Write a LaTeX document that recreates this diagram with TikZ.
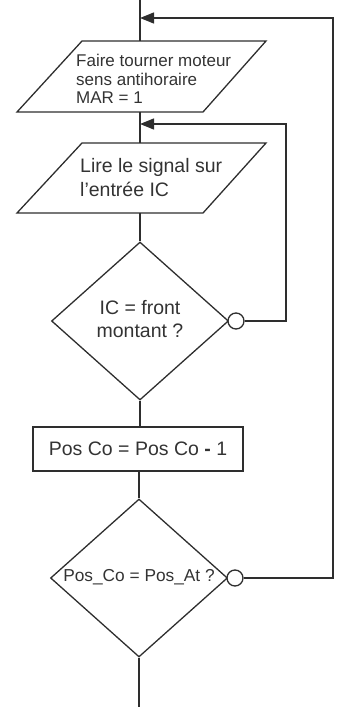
\documentclass[tikz,border=0pt]{standalone}
\usepackage{fontspec}
\setmainfont{Liberation Sans}
\usetikzlibrary{shapes.geometric,arrows.meta}
\definecolor{ink}{HTML}{2E2E2E}
\definecolor{txt}{HTML}{333333}
\begin{document}
\begin{tikzpicture}[x=1pt,y=-1pt,
  line/.style={draw=ink,line width=1.3pt},
  flow/.style={line,-{Triangle[length=14pt,width=11pt]}},
  label/.style={text=txt,inner sep=0pt},
  test/.style={line,diamond,minimum width=177pt,minimum height=158pt,inner sep=0pt},
  stepbox/.style={line,rectangle,minimum width=210pt,minimum height=44pt,inner sep=0pt},
  neg/.style={line,circle,fill=white,minimum size=16pt,inner sep=0pt}]
\useasboundingbox (0,0) rectangle (337,707);

% input / output blocks (parallelograms)
\draw[line] (82,41) -- (266,41) -- (203,112) -- (17,112) -- cycle;
\coordinate (p1t) at (140,41);
\coordinate (p1b) at (140,112);
\node[label,anchor=west,align=left,font=\fontsize{17}{18.5}\selectfont] (t1) at (76,79)
  {Faire tourner moteur\\sens antihoraire\\MAR = 1};

\draw[line] (82,143) -- (266,143) -- (203,213) -- (17,213) -- cycle;
\coordinate (p2t) at (140,143);
\coordinate (p2b) at (140,213);
\node[label,anchor=west,align=left,font=\fontsize{19.5}{24}\selectfont] (t2) at (80,178)
  {Lire le signal sur\\l’entrée IC};

% tests
\node[test] (d1) at (140,321) {};
\node[label,align=center,font=\fontsize{19.5}{23}\selectfont] at (140,319) {IC = front\\montant ?};
\node[neg] (c1) at (236,321) {};

\node[stepbox,font=\fontsize{19.5}{23}\selectfont,text=txt] (calc) at (138,449) {Pos Co = Pos Co {\bfseries -} 1};

\node[test] (d2) at (139,578) {};
\node[label,font=\fontsize{17.3}{20}\selectfont] at (139,577) {Pos\_Co = Pos\_At ?};
\node[neg] (c2) at (235,578) {};

% main flow
\coordinate (start) at (140,0);
\coordinate (stop) at (139,707);
\coordinate (j1) at (140,18);
\coordinate (j2) at (140,124);
\draw[line] (start) -- (p1t);
\draw[line] (p1b) -- (p2t);
\draw[line] (p2b) -- (d1.north);
\draw[line] (d1.south) -- (d1.south|-calc.north);
\draw[line] (d2.north|-calc.south) -- (d2.north);
\draw[line] (d2.south) -- (stop);

% loops back
\coordinate (inner) at (286,124);
\coordinate (outer) at (333,18);
\draw[flow] (c1.east) -| (inner) -- (j2);
\draw[flow] (c2.east) -| (outer) -- (j1);
\end{tikzpicture}
\end{document}
